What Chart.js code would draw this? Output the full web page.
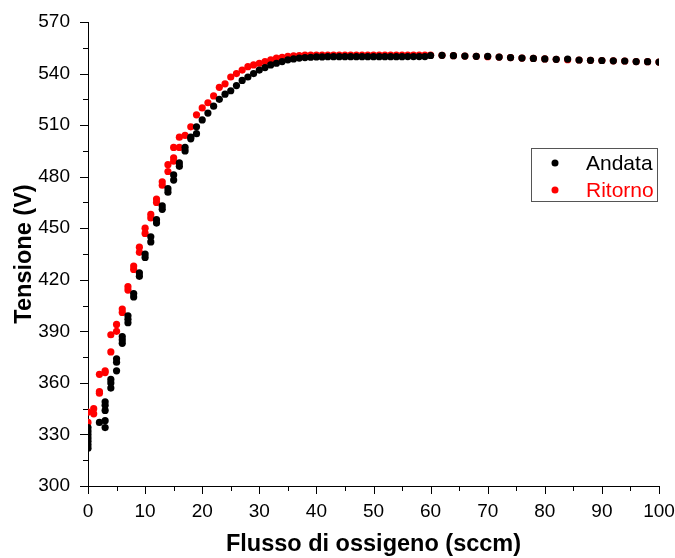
<!DOCTYPE html>
<html>
<head>
<meta charset="utf-8">
<script src="https://cdn.jsdelivr.net/npm/chart.js@4"></script>
<style>
  html, body { margin: 0; padding: 0; background: #fff; }
  #wrap { width: 675px; height: 558px; }
</style>
</head>
<body>
<div id="wrap"><canvas id="chart" width="675" height="558"></canvas></div>
<script>
// Andata (black) - flow (sccm) and voltage (V)
const andataX = [0, 0, 0, 0, 0, 0, 0, 2, 3, 3, 3, 3, 3, 4, 4, 4, 5, 5, 5, 6, 6, 6, 7, 7, 7,
    8, 8, 9, 9, 10, 10, 11, 11, 12, 12, 13, 13, 14, 14, 15, 15, 16, 16, 17, 17, 18, 18, 19, 19,
    20, 21, 22, 23, 24, 25, 26, 27, 28, 29, 30, 31, 32, 33, 34, 35, 36, 37, 38, 39, 40,
    41, 42, 43, 44, 45, 46, 47, 48, 49, 50, 51, 52, 53, 54, 55, 56, 57, 58, 59, 60,
    62, 64, 66, 68, 70, 72, 74, 76, 78, 80, 82, 84, 86, 88, 90, 92, 94, 96, 98, 100];
const andataY = [322, 324, 326, 328, 330, 332, 334, 337, 334, 338, 344, 347, 349, 357, 360, 362,
    367, 372, 374, 383, 385, 387, 395, 397, 399, 410, 412, 422, 424, 433, 435, 442, 445,
    453, 455, 461, 463, 471, 473, 478, 481, 486, 488, 495, 497, 502, 503, 505, 509,
    513, 517, 521, 525, 528, 530, 533, 536, 538, 540, 542, 543.5, 545, 546, 547, 548, 548.5,
    549, 549.3, 549.5, 549.7, 549.7, 549.8, 549.8, 549.8, 549.8, 549.8, 549.8, 549.8, 549.8,
    549.8, 549.8, 549.8, 549.8, 549.8, 549.8, 549.9, 549.9, 549.9, 549.9, 550.5,
    550.6, 550.4, 550.2, 550.0, 550.0, 549.6, 549.3, 549.0, 548.8, 548.5, 548.3, 548.4,
    547.9, 547.7, 547.6, 547.4, 547.3, 547.0, 546.9, 546.7];

// Ritorno (red)
const ritornoX = [0, 0, 1, 1, 2, 2, 2, 3, 3, 4, 4, 5, 5, 6, 6, 7, 7, 8, 8, 9, 9, 10, 10,
    11, 11, 12, 12, 13, 13, 14, 14, 15, 15, 15, 16, 16, 17, 18, 19, 20, 21, 22, 23, 24, 25,
    26, 27, 28, 29, 30, 31, 32, 33, 34, 35, 36, 37, 38, 39, 40, 41, 42, 43, 44, 45, 46, 47,
    48, 49, 50, 51, 52, 53, 54, 55, 56, 57, 58, 59, 60,
    62, 64, 66, 68, 70, 72, 74, 76, 78, 80, 82, 84, 86, 88, 90, 92, 94, 96, 98, 100];
const ritornoY = [337, 343, 342, 345, 354, 355, 365, 366, 367, 378, 388, 390, 394, 401, 403,
    414, 416, 426, 428, 436, 439, 447, 450, 456, 458, 465, 467, 475, 477, 483, 487,
    489, 491, 497, 497, 503, 504, 509, 516, 520, 523, 527, 532, 534, 538, 540, 542, 544, 545,
    546, 547, 548, 549, 549.5, 550, 550.3, 550.5, 550.7, 550.8, 550.8, 550.8, 550.8, 550.8,
    550.8, 550.8, 550.8, 550.8, 550.8, 550.8, 550.8, 550.8, 550.8, 550.8, 550.8, 550.8,
    550.8, 550.8, 550.8, 550.8, 550.7,
    550.6, 550.4, 550.2, 550.0, 549.8, 549.6, 549.3, 549.0, 548.8, 548.5, 548.3, 548.1,
    547.9, 547.7, 547.6, 547.4, 547.3, 547.0, 546.9, 546.7];

const xTicks = [0, 10, 20, 30, 40, 50, 60, 70, 80, 90, 100];
const yTicks = [300, 330, 360, 390, 420, 450, 480, 510, 540, 570];

const FONT = "'Liberation Sans', Arial, sans-serif";

function toPoints(xs, ys) {
    return xs.map((x, i) => ({ x: x, y: ys[i] }));
}

// outward tick marks, long on labelled values, short in between
const tickMarks = {
    id: 'tickMarks',
    afterDraw(chart) {
        const ctx = chart.ctx;
        const xs = chart.scales.x;
        const ys = chart.scales.y;
        ctx.save();
        ctx.strokeStyle = '#000';
        ctx.lineWidth = 1;
        ctx.beginPath();
        xs.ticks.forEach(t => {
            const px = Math.round(xs.getPixelForValue(t.value)) + 0.5;
            const len = xTicks.includes(t.value) ? 8 : 5;
            ctx.moveTo(px, xs.top);
            ctx.lineTo(px, xs.top + len);
        });
        ys.ticks.forEach(t => {
            const py = Math.round(ys.getPixelForValue(t.value)) + 0.5;
            const len = yTicks.includes(t.value) ? 8 : 5;
            ctx.moveTo(ys.right, py);
            ctx.lineTo(ys.right - len, py);
        });
        ctx.stroke();
        ctx.restore();
    }
};

// boxed legend inside the plot, right side
const boxLegend = {
    id: 'boxLegend',
    afterDraw(chart) {
        const ctx = chart.ctx;
        ctx.save();
        ctx.strokeStyle = '#555';
        ctx.lineWidth = 1;
        ctx.strokeRect(531.5, 148.5, 126, 53);
        ctx.font = '21px ' + FONT;
        ctx.textBaseline = 'middle';
        chart.data.datasets.forEach((ds, i) => {
            const y = 163 + i * 27;
            ctx.fillStyle = ds.backgroundColor;
            ctx.beginPath();
            ctx.arc(555, y, 3.5, 0, Math.PI * 2);
            ctx.fill();
            ctx.fillText(ds.label, 586, y + 1);
        });
        ctx.restore();
    }
};

new Chart(document.getElementById('chart').getContext('2d'), {
    type: 'scatter',
    data: {
        datasets: [
            {
                label: 'Andata',
                data: toPoints(andataX, andataY),
                backgroundColor: '#000000',
                borderWidth: 0,
                pointRadius: 3.6
            },
            {
                label: 'Ritorno',
                data: toPoints(ritornoX, ritornoY),
                backgroundColor: '#ff0000',
                borderWidth: 0,
                pointRadius: 3.6
            }
        ]
    },
    options: {
        responsive: false,
        animation: false,
        layout: { padding: { top: 22, right: 16, left: 0, bottom: 0 } },
        plugins: {
            legend: { display: false },
            tooltip: { enabled: false }
        },
        scales: {
            x: {
                type: 'linear',
                min: 0,
                max: 100,
                grid: { display: false },
                border: { display: true, color: '#000', width: 1 },
                ticks: {
                    stepSize: 5,
                    autoSkip: false,
                    maxRotation: 0,
                    padding: 6,
                    color: '#000',
                    font: { family: FONT, size: 19 },
                    callback: v => xTicks.includes(v) ? String(v) : ''
                },
                title: {
                    display: true,
                    text: 'Flusso di ossigeno (sccm)',
                    color: '#000',
                    font: { family: FONT, size: 23.5, weight: 'bold' },
                    padding: { top: 0, bottom: -1 }
                },
                afterFit: s => { s.height = 72; s.paddingLeft = 0; s.paddingRight = 0; }
            },
            y: {
                type: 'linear',
                min: 300,
                max: 570,
                grid: { display: false },
                border: { display: true, color: '#000', width: 1 },
                ticks: {
                    stepSize: 15,
                    autoSkip: false,
                    padding: 10,
                    color: '#000',
                    font: { family: FONT, size: 19 },
                    callback: v => yTicks.includes(v) ? String(v) : ''
                },
                title: {
                    display: true,
                    text: 'Tensione (V)',
                    color: '#000',
                    font: { family: FONT, size: 23.5, weight: 'bold' },
                    padding: { top: 10, bottom: 0 }
                },
                afterFit: s => { s.width = 88; s.paddingTop = 0; s.paddingBottom = 0; }
            }
        }
    },
    plugins: [tickMarks, boxLegend]
});
</script>
</body>
</html>
